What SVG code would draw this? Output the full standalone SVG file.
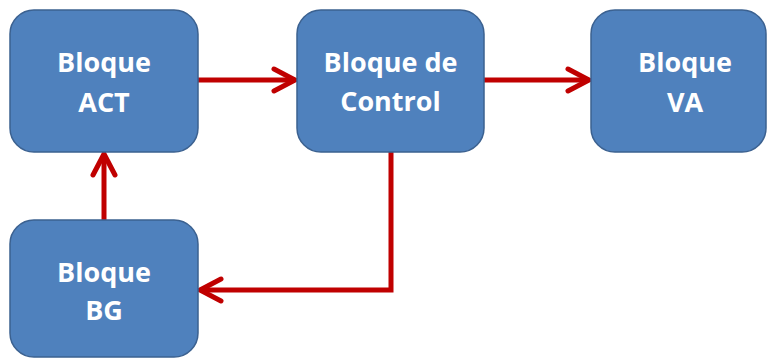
<svg xmlns="http://www.w3.org/2000/svg" width="767" height="358" viewBox="0 0 767 358">
  <style>
    .box { fill: #4F81BD; stroke: #3B6190; stroke-width: 1.5; }
    .lbl { fill: #FFFFFF; font-family: "Open Sans", "Liberation Sans", sans-serif; font-weight: bold; font-size: 27px; text-anchor: middle; }
    .wire { fill: none; stroke: #C00000; stroke-width: 5; stroke-linejoin: miter; }
    .head { fill: none; stroke: #C00000; stroke-width: 5; stroke-linecap: round; stroke-linejoin: miter; }
  </style>
  <rect width="767" height="358" fill="#FFFFFF"/>

  <g id="connectors">
    <!-- ACT -> Control -->
    <line class="wire" x1="198" y1="80" x2="295" y2="80"/>
    <path class="head" d="M274,69 L295,80 L274,91"/>
    <!-- Control -> VA -->
    <line class="wire" x1="484" y1="80" x2="589" y2="80"/>
    <path class="head" d="M568,69 L589,80 L568,91"/>
    <!-- BG -> ACT -->
    <line class="wire" x1="104" y1="220" x2="104" y2="154"/>
    <path class="head" d="M93,175 L104,154 L115,175"/>
    <!-- Control -> BG -->
    <path class="wire" d="M391,152 L391,290 L200,290"/>
    <path class="head" d="M221,279 L200,290 L221,301"/>
  </g>

  <g id="bloque-act">
    <rect class="box" x="10" y="10" width="188" height="142" rx="24" ry="24"/>
    <text class="lbl" x="104" y="72">Bloque</text>
    <text class="lbl" x="104" y="112">ACT</text>
  </g>

  <g id="bloque-control">
    <rect class="box" x="297" y="10" width="187" height="142" rx="24" ry="24"/>
    <text class="lbl" x="390.5" y="72">Bloque de</text>
    <text class="lbl" x="390.5" y="111">Control</text>
  </g>

  <g id="bloque-va">
    <rect class="box" x="591" y="10" width="175" height="142" rx="24" ry="24"/>
    <text class="lbl" x="685" y="72">Bloque</text>
    <text class="lbl" x="685" y="112">VA</text>
  </g>

  <g id="bloque-bg">
    <rect class="box" x="10" y="220" width="188" height="137" rx="24" ry="24"/>
    <text class="lbl" x="104" y="282">Bloque</text>
    <text class="lbl" x="104" y="320">BG</text>
  </g>
</svg>
